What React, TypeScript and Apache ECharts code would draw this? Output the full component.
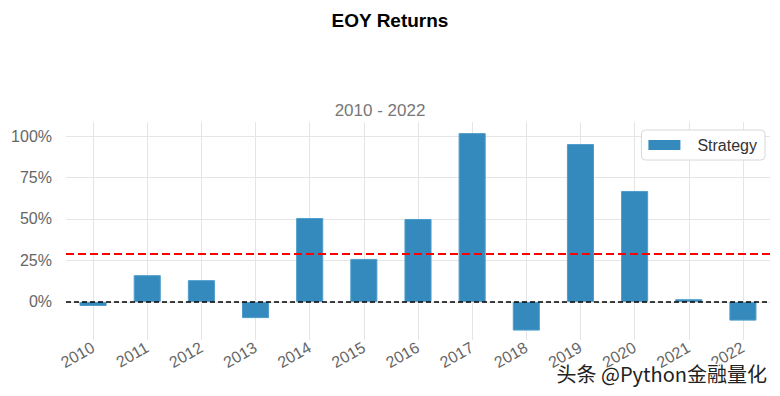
import React, { useEffect, useRef } from "react";
import * as echarts from "echarts";

const years = ["2010", "2011", "2012", "2013", "2014", "2015", "2016", "2017", "2018", "2019", "2020", "2021", "2022"];
const returns = [-0.025, 0.161, 0.131, -0.098, 0.506, 0.259, 0.5, 1.018, -0.173, 0.952, 0.669, 0.016, -0.113];
const yTicks = [0, 0.25, 0.5, 0.75, 1.0];
const seriesName = "Strategy";
const titleText = "EOY Returns";
const subtitleText = "2010 - 2022";
const watermark = "头条 @Python金融量化";

const FONT = "'Liberation Sans', Arial, sans-serif";

export default function App() {
  const ref = useRef<HTMLDivElement>(null);
  useEffect(() => {
    const chart = echarts.init(ref.current!, null, { renderer: "svg" });
    chart.setOption({
      animation: false,
      backgroundColor: "#ffffff",
      textStyle: { fontFamily: FONT },
      title: [
        { text: titleText, left: "center", top: 6, textStyle: { fontSize: 19, fontWeight: "bold", color: "#000", fontFamily: FONT } },
        { text: subtitleText, left: 375, top: 97, textAlign: "center", textStyle: { fontSize: 17, fontWeight: "normal", color: "#777", fontFamily: FONT } },
      ],
      legend: {
        right: 15,
        top: 130,
        orient: "vertical",
        itemWidth: 32,
        itemHeight: 10,
        itemGap: 6,
        padding: [7, 8, 7, 7],
        borderColor: "#d8d8d8",
        borderWidth: 1,
        borderRadius: 4,
        backgroundColor: "#fff",
        itemStyle: { borderWidth: 0 },
        textStyle: { fontSize: 16, color: "#333", fontFamily: FONT, padding: [0, 0, 0, 12] },
        data: [{ name: seriesName, icon: "rect" }],
      },
      grid: { left: 66, right: 10, top: 122, bottom: 56 },
      xAxis: {
        type: "category",
        data: years,
        axisLine: { show: false },
        axisTick: { show: false, alignWithLabel: true },
        splitLine: { show: true, alignWithLabel: true, lineStyle: { color: "#e5e5e5", width: 1 } },
        axisLabel: { rotate: 30, fontSize: 16, color: "#666", margin: 6, fontFamily: FONT },
      },
      yAxis: {
        type: "value",
        min: -0.23,
        max: 1.085,
        axisLine: { show: false },
        axisTick: { show: false, customValues: yTicks },
        splitLine: { show: true, lineStyle: { color: "#e5e5e5", width: 1 } },
        axisLabel: {
          customValues: yTicks,
          fontSize: 16,
          color: "#666",
          margin: 14,
          fontFamily: FONT,
          formatter: (v: number) => `${Math.round(v * 100)}%`,
        },
      },
      series: [
        {
          name: seriesName,
          type: "bar",
          data: returns,
          barWidth: "50%",
          itemStyle: { color: "#348ABD", borderColor: "#4f9ccc", borderWidth: 1 },
          markLine: {
            silent: true,
            symbol: "none",
            label: { show: false },
            data: [
              { type: "average", lineStyle: { color: "#ff0000", type: [8, 4], width: 2 } },
              { yAxis: 0, lineStyle: { color: "#000", type: [5, 3], width: 1.5 } },
            ],
          },
        },
      ],
      graphic: [
        {
          type: "text",
          right: 12,
          top: 362,
          z: 100,
          style: {
            text: watermark,
            fontSize: 20,
            fontFamily: "'Noto Sans CJK SC', sans-serif",
            fill: "#222",
            stroke: "#fff",
            lineWidth: 2,
          },
        },
      ],
    });
    return () => chart.dispose();
  }, []);
  return <div ref={ref} style={{ width: 780, height: 396, margin: -8 }} />;
}
